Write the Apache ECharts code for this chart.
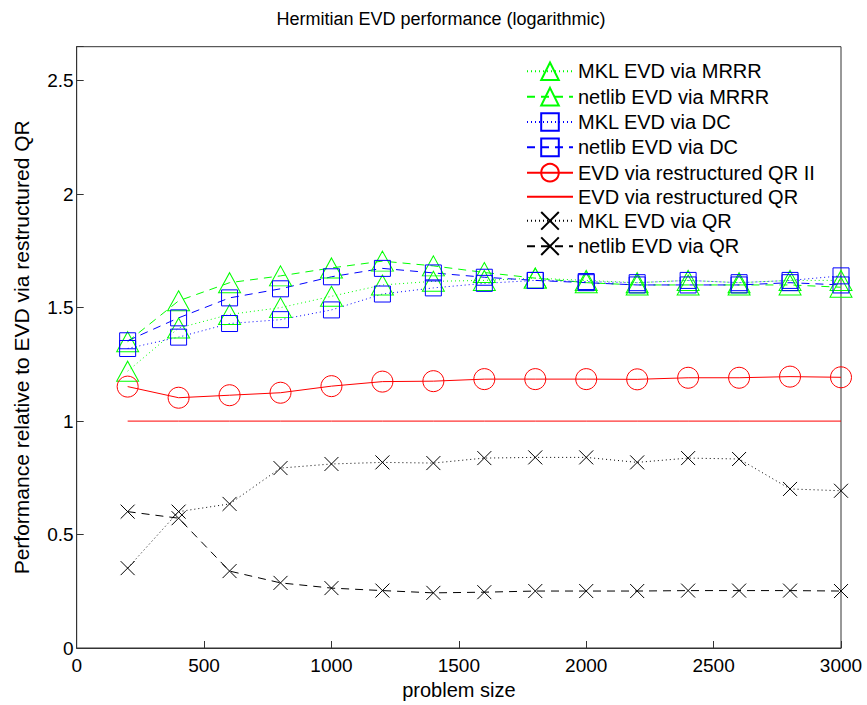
<!DOCTYPE html>
<html>
<head>
<meta charset="utf-8">
<script src="https://cdn.jsdelivr.net/npm/echarts@6/dist/echarts.min.js"></script>
<style>
html,body{margin:0;padding:0;background:#fff;}
#chart{width:867px;height:705px;}
</style>
</head>
<body>
<div id="chart"></div>
<script>
const problemSizes = [200, 400, 600, 800, 1000, 1200, 1400, 1600, 1800, 2000, 2200, 2400, 2600, 2800, 3000];
const mklMRRR    = [1.22, 1.41, 1.47, 1.50, 1.55, 1.60, 1.616, 1.62, 1.63, 1.62, 1.61, 1.62, 1.61, 1.62, 1.62];
const netlibMRRR = [1.35, 1.53, 1.61, 1.64, 1.675, 1.705, 1.684, 1.655, 1.63, 1.61, 1.60, 1.60, 1.60, 1.60, 1.59];
const mklDC      = [1.32, 1.37, 1.43, 1.447, 1.49, 1.56, 1.587, 1.607, 1.62, 1.615, 1.61, 1.62, 1.61, 1.62, 1.64];
const netlibDC   = [1.354, 1.455, 1.543, 1.583, 1.636, 1.673, 1.653, 1.634, 1.62, 1.61, 1.60, 1.60, 1.60, 1.61, 1.60];
const restructQR2 = [1.152, 1.103, 1.114, 1.125, 1.154, 1.174, 1.176, 1.185, 1.185, 1.185, 1.184, 1.191, 1.191, 1.196, 1.193];
const restructQR  = [1, 1, 1, 1, 1, 1, 1, 1, 1, 1, 1, 1, 1, 1, 1];
const mklQR      = [0.352, 0.601, 0.635, 0.793, 0.811, 0.818, 0.815, 0.837, 0.840, 0.840, 0.818, 0.837, 0.833, 0.701, 0.693];
const netlibQR   = [0.601, 0.572, 0.339, 0.287, 0.264, 0.253, 0.243, 0.246, 0.251, 0.251, 0.251, 0.253, 0.253, 0.253, 0.251];
const seriesNames = ['MKL EVD via MRRR', 'netlib EVD via MRRR', 'MKL EVD via DC', 'netlib EVD via DC',
  'EVD via restructured QR II', 'EVD via restructured QR', 'MKL EVD via QR', 'netlib EVD via QR'];
const xTicks = [0, 500, 1000, 1500, 2000, 2500, 3000];
const yTicks = [0, 0.5, 1, 1.5, 2, 2.5];

const FONT = 'Liberation Sans, Arial, Helvetica, sans-serif';
const DOT = [1, 3];
const DASH = [8, 6];
const CROSS = 'path://M0,0L10,10M10,0L0,10';

function pairs(vals) { return problemSizes.map((x, i) => [x, vals[i]]); }

function mk(name, vals, color, dash, symbol, size) {
  return {
    name: name, type: 'line', data: pairs(vals),
    symbol: symbol, symbolSize: size, showSymbol: symbol !== 'none',
    lineStyle: {color: color, width: 1, type: dash},
    itemStyle: {color: 'none', borderColor: color, borderWidth: 1},
    emphasis: {disabled: true}, animation: false
  };
}

const legendData = seriesNames.map(n => n === 'EVD via restructured QR'
  ? {name: n, itemStyle: {color: 'none', borderColor: 'none', borderWidth: 0}}
  : {name: n});

const chart = echarts.init(document.getElementById('chart'), null, {renderer: 'svg'});
chart.setOption({
  backgroundColor: '#fff',
  animation: false,
  title: {
    text: 'Hermitian EVD performance (logarithmic)', left: 436, top: 5, textAlign: 'center',
    textStyle: {fontFamily: FONT, fontSize: 18, fontWeight: 'normal', color: '#000'}
  },
  grid: {left: 76.7, right: 26, top: 46.7, bottom: 55.7, show: true, borderColor: '#333', borderWidth: 1, backgroundColor: 'transparent'},
  legend: {
    orient: 'vertical', left: 526, top: 60, padding: 0, itemWidth: 46, itemHeight: 22, itemGap: 2.75,
    data: legendData,
    textStyle: {fontFamily: FONT, fontSize: 20, color: '#000'},
    selectedMode: false
  },
  xAxis: {
    type: 'value', min: 0, max: 3000, interval: 500,
    name: 'problem size', nameLocation: 'middle', nameGap: 32,
    nameTextStyle: {fontFamily: FONT, fontSize: 20, color: '#000'},
    axisLine: {show: true, lineStyle: {color: '#333'}},
    axisTick: {show: true, inside: true, length: 7, lineStyle: {color: '#333'}},
    axisLabel: {fontFamily: FONT, fontSize: 19, color: '#000', margin: 8,
      formatter: v => xTicks.indexOf(v) >= 0 ? String(v) : ''},
    splitLine: {show: false}
  },
  yAxis: {
    type: 'value', min: 0, max: 2.65, interval: 0.5,
    name: 'Performance relative to EVD via restructured QR', nameLocation: 'middle', nameGap: 45,
    nameTextStyle: {fontFamily: FONT, fontSize: 21, color: '#000'},
    axisLine: {show: true, lineStyle: {color: '#333'}},
    axisTick: {show: true, inside: true, length: 7, lineStyle: {color: '#333'}},
    axisLabel: {fontFamily: FONT, fontSize: 19, color: '#000', margin: 3,
      formatter: v => yTicks.some(t => Math.abs(t - v) < 1e-9) ? String(v) : ''},
    splitLine: {show: false}
  },
  series: [
    mk(seriesNames[0], mklMRRR, '#00ff00', DOT, 'triangle', [22, 20]),
    mk(seriesNames[1], netlibMRRR, '#00ff00', DASH, 'triangle', [22, 20]),
    mk(seriesNames[2], mklDC, '#0000ff', DOT, 'rect', 16),
    mk(seriesNames[3], netlibDC, '#0000ff', DASH, 'rect', 16),
    mk(seriesNames[4], restructQR2, '#ff0000', 'solid', 'circle', 21),
    mk(seriesNames[5], restructQR, '#ff0000', 'solid', 'none', 1),
    mk(seriesNames[6], mklQR, '#000000', DOT, CROSS, 14),
    mk(seriesNames[7], netlibQR, '#000000', DASH, CROSS, 14)
  ]
});
</script>
</body>
</html>
